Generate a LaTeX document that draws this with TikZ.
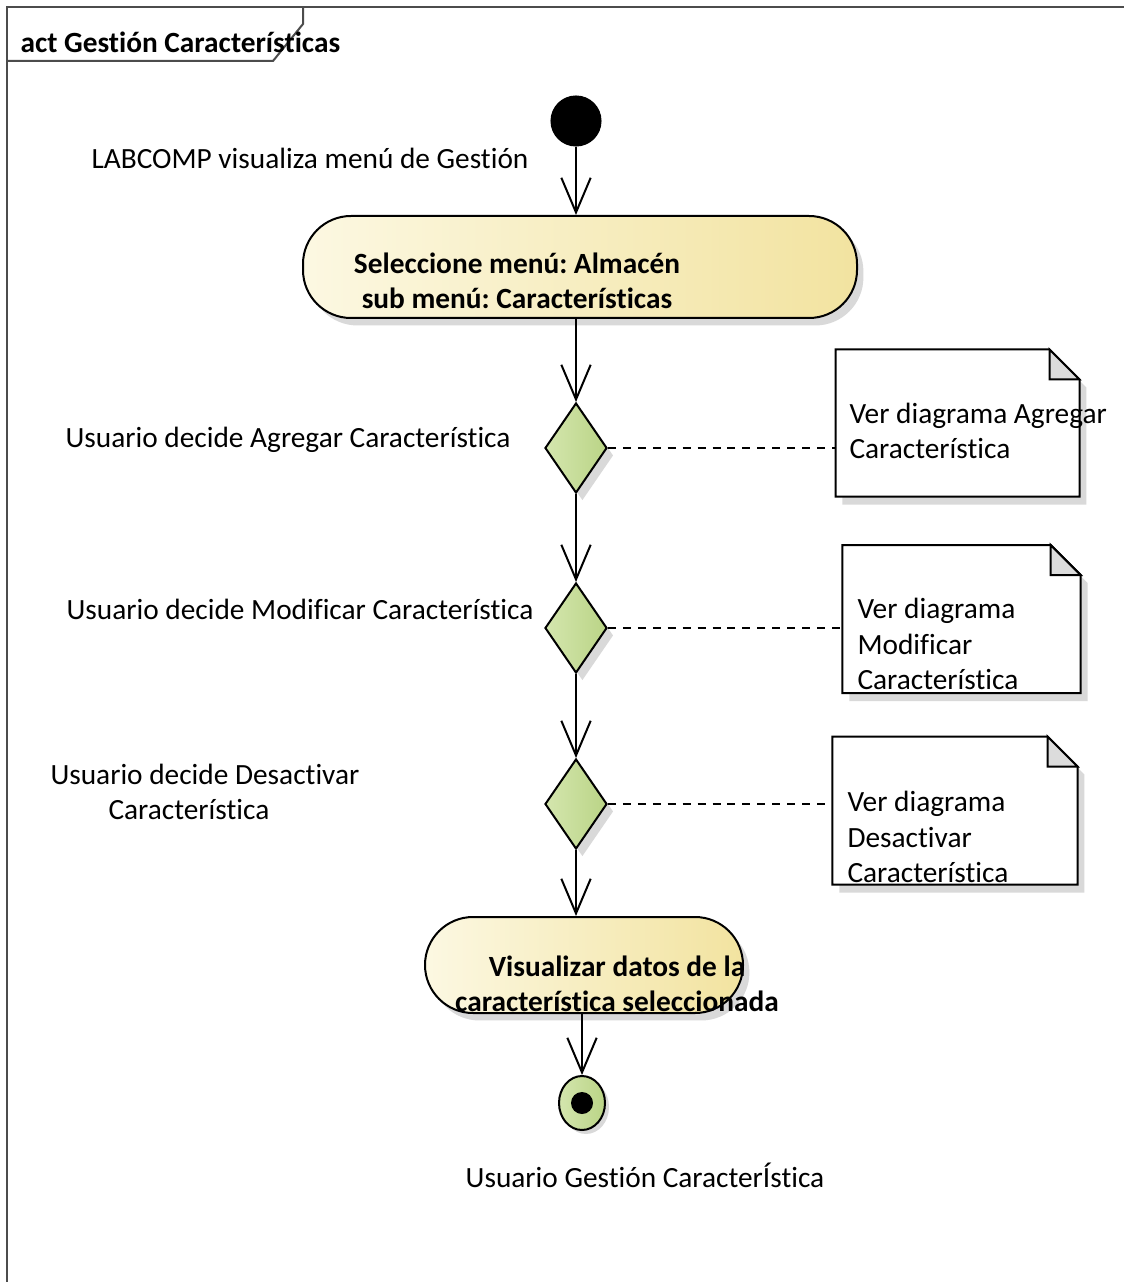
\documentclass[tikz,border=0pt]{standalone}
\usepackage{fontspec}
\setmainfont{Carlito}[Ligatures=NoCommon]
\frenchspacing
\usetikzlibrary{arrows.meta,shapes.geometric,shadows}
\definecolor{yelL}{HTML}{FCF8E2}
\definecolor{yelR}{HTML}{F2E3A0}
\definecolor{grnL}{HTML}{D4E6AE}
\definecolor{grnR}{HTML}{BAD486}
\definecolor{shadowgray}{HTML}{D9D9D9}
\definecolor{foldgray}{HTML}{DCDCDC}
\newcommand\mynote[1]{%
  \fill[shadowgray] ([shift={(2.6pt,-3pt)}]#1.north west) -- ([shift={(-8.65pt,-3pt)}]#1.north east) -- ([shift={(2.6pt,-14.25pt)}]#1.north east) -- ([shift={(2.6pt,-3pt)}]#1.south east) -- ([shift={(2.6pt,-3pt)}]#1.south west) -- cycle;
  \filldraw[fill=white,draw=black,line width=0.75pt,line join=miter] (#1.north west) -- ([xshift=-11.25pt]#1.north east) -- ([yshift=-11.25pt]#1.north east) -- (#1.south east) -- (#1.south west) -- cycle;
  \filldraw[fill=foldgray,draw=black,line width=0.75pt] ([xshift=-11.25pt]#1.north east) -- ([xshift=-11.25pt,yshift=-11.25pt]#1.north east) -- ([yshift=-11.25pt]#1.north east) -- cycle;
}
\begin{document}
\begin{tikzpicture}[x=0.375pt,y=-0.375pt,
  every node/.style={font=\fontsize{11pt}{13.2pt}\selectfont},
  myshadow/.style={drop shadow={shadow xshift=2.4pt,shadow yshift=-2.8pt,fill=shadowgray,opacity=1}},
  flow/.style={draw=black,line width=0.75pt,-{Straight Barb[length=13pt,width=11pt,line width=0.75pt]}},
  dashlink/.style={draw=black,line width=0.75pt,dash pattern=on 3pt off 2.6pt},
  actbox/.style={rectangle,rounded corners=18pt,draw=black,line width=0.75pt,left color=yelL,right color=yelR,inner sep=0pt,myshadow},
  decision/.style={diamond,draw=black,line width=0.75pt,left color=grnL,right color=grnR,inner sep=0pt,minimum width=23.25pt,minimum height=33.75pt,myshadow},
  notebox/.style={rectangle,draw=none,inner sep=0pt},
  plain/.style={inner sep=0pt,align=center},
  boldtxt/.style={inner sep=0pt,align=center,font=\fontsize{11pt}{13.2pt}\selectfont\bfseries}
]
\useasboundingbox (0,0) rectangle (1124,1282);
\fill[white] (0,0) rectangle (1124,1282);
% frame
\coordinate (fbl) at (7,1282);
\coordinate (ftl) at (7,7);
\coordinate (ftr) at (1124,7);
\draw[black!70,line width=0.75pt] (fbl) -- (ftl) -- (ftr);
\coordinate (tab1) at (7,61);
\coordinate (tab2) at (273,61);
\coordinate (tab3) at (303,24);
\coordinate (tab4) at (303,7);
\draw[black!70,line width=0.75pt] (tab1) -- (tab2) -- (tab3) -- (tab4);
\node[anchor=west,inner sep=0pt,font=\fontsize{11pt}{13.2pt}\selectfont\bfseries] (title) at (20,42) {act Gestión Características};

% nodes
\node[circle,fill=black,draw=black,minimum size=18.75pt,inner sep=0pt] (init) at (576,121) {};
\node[plain] (linit) at (310,158) {LABCOMP visualiza menú de Gestión};

\node[actbox,minimum width=207.75pt,minimum height=38.25pt] (act1) at (580,267) {};
\node[boldtxt] (tact1) at (517,281) {Seleccione menú: Almacén\\sub menú: Características};

\node[decision] (d1) at (576,448) {};
\node[plain] (ld1) at (288,440) {Usuario decide Agregar Característica};
\node[decision] (d2) at (576,628) {};
\node[plain] (ld2) at (300,609) {Usuario decide Modificar Característica};
\node[decision] (d3) at (576,804) {};
\node[inner sep=0pt,align=left,anchor=west] (ld3) at (50,792) {Usuario decide Desactivar\\\hspace*{21.75pt}Característica};

\node[actbox,minimum width=119.25pt,minimum height=36pt] (act2) at (584,965) {};
\node[boldtxt] (tact2) at (617,984) {Visualizar datos de la\\característica seleccionada};

\node[ellipse,draw=black,line width=0.75pt,left color=grnL,right color=grnR,minimum width=17.25pt,minimum height=20.25pt,inner sep=0pt,drop shadow={shadow xshift=1.5pt,shadow yshift=-1.5pt,fill=shadowgray,opacity=1}] (fin) at (582,1103) {};
\node[circle,fill=black,minimum size=8.25pt,inner sep=0pt] (findot) at (fin.center) {};
\node[plain] (lfin) at (645,1175) {Usuario Gestión CaracterÍstica};

% notes
\node[notebox,minimum width=91.1pt,minimum height=54.75pt] (n1) at (957.5,423) {};
\mynote{n1}
\node[inner sep=0pt,align=left,anchor=west] (tn1) at (849,431) {Ver diagrama Agregar\\Característica};
\node[notebox,minimum width=88.9pt,minimum height=55.1pt] (n2) at (961.5,619) {};
\mynote{n2}
\node[inner sep=0pt,align=left,anchor=west] (tn2) at (857,644) {Ver diagrama\\Modificar\\Característica};
\node[notebox,minimum width=91.5pt,minimum height=55.1pt] (n3) at (955,810.5) {};
\mynote{n3}
\node[inner sep=0pt,align=left,anchor=west] (tn3) at (847,837) {Ver diagrama\\Desactivar\\Característica};

% connectors
\draw[flow] (init) -- (init |- act1.north);
\draw[flow] (init |- act1.south) -- (d1.north);
\draw[flow] (d1.south) -- (d2.north);
\draw[flow] (d2.south) -- (d3.north);
\draw[flow] (d3.south) -- (d3.south |- act2.north);
\draw[flow] (fin |- act2.south) -- (fin.north);
\draw[dashlink] (d1.east) -- (d1.east -| n1.west);
\draw[dashlink] (d2.east) -- (d2.east -| n2.west);
\draw[dashlink] (d3.east) -- (d3.east -| n3.west);
\end{tikzpicture}
\end{document}
